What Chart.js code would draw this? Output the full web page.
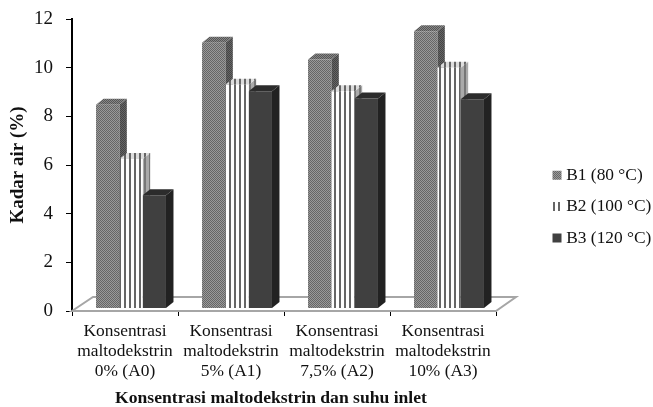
<!DOCTYPE html>
<html lang="id">
<head>
  <meta charset="UTF-8" />
  <title>Kadar air</title>
  <script src="https://cdn.jsdelivr.net/npm/chart.js"></script>
  <style>
    html, body { margin: 0; padding: 0; background: #fff; overflow: hidden; }
    #wrap { width: 653px; height: 407px; }
  </style>
</head>
<body>
  <div id="wrap"><canvas id="airChart" width="653" height="407"></canvas></div>

  <script>
    const categories = [
      ["Konsentrasi", "maltodekstrin", "0% (A0)"],
      ["Konsentrasi", "maltodekstrin", "5% (A1)"],
      ["Konsentrasi", "maltodekstrin", "7,5% (A2)"],
      ["Konsentrasi", "maltodekstrin", "10% (A3)"]
    ];
    const b1Values = [8.48, 11.02, 10.34, 11.5];
    const b2Values = [6.25, 9.3, 9.03, 10.0];
    const b3Values = [4.76, 9.03, 8.73, 8.7];
    const seriesNames = ["B1 (80 °C)", "B2 (100 °C)", "B3 (120 °C)"];
    const serif = "'Liberation Serif', serif";

    // little tiled fills for the old Excel style bars
    function tile(w, h, paint) {
      const c = document.createElement("canvas");
      c.width = w; c.height = h;
      paint(c.getContext("2d"));
      return c.getContext("2d").createPattern(c, "repeat");
    }
    function dither(dark, light) {
      return tile(2, 2, g => {
        g.fillStyle = light; g.fillRect(0, 0, 2, 2);
        g.fillStyle = dark; g.fillRect(0, 0, 1, 1); g.fillRect(1, 1, 1, 1);
      });
    }
    function stripes(bg, line) {
      return tile(5, 2, g => {
        g.fillStyle = bg; g.fillRect(0, 0, 5, 2);
        g.fillStyle = line; g.fillRect(3, 0, 2, 2);
      });
    }

    const fronts = [dither("#666", "#9a9a9a"), stripes("#fff", "#666"), "#404040"];
    const sides = [dither("#444", "#666"), stripes("#aaa", "#777"), "#222"];
    const tops = [dither("#555", "#888"), stripes("#ddd", "#666"), "#2c2c2c"];
    const DX = 7.5, DY = 6, SHIFT = 6;

    const bar3d = {
      id: "bar3d",
      beforeLayout(chart) {
        const lg = chart.legend;
        if (!lg._wrapped) {
          const fit = lg.fit;
          lg.fit = function () { fit.call(this); this.width = 100; };
          lg._wrapped = true;
        }
      },
      afterLayout(chart) {
        const lg = chart.legend;
        lg.left = 542.5; lg.right = 654;
        lg.top = 152.5; lg.bottom = 300;
        // x title sits left of the axis centre in the original
        const x = chart.scales.x;
        if (!x._moved) {
          const dt = x.drawTitle;
          x.drawTitle = function () {
            chart.ctx.save();
            chart.ctx.translate(-13, 2);
            dt.call(this);
            chart.ctx.restore();
          };
          x._moved = true;
        }
      },
      beforeDatasetsDraw(chart) {
        const { ctx, chartArea: a } = chart;
        ctx.save();
        // the floor, tied to the axis ends
        ctx.strokeStyle = "#a6a6a6";
        ctx.lineWidth = 2;
        ctx.beginPath();
        ctx.moveTo(a.left, a.bottom);
        ctx.lineTo(a.left + 21, a.bottom - 14);
        ctx.lineTo(a.right + 20, a.bottom - 14);
        ctx.lineTo(a.right, a.bottom);
        ctx.closePath();
        ctx.stroke();
        // side and top faces first, the library paints the fronts over them
        ctx.translate(SHIFT, 0);
        chart.getSortedVisibleDatasetMetas().forEach((meta, i) => {
          meta.data.forEach(el => {
            const p = el.getProps(["x", "y", "base", "width"], true);
            const l = p.x - p.width / 2, r = p.x + p.width / 2;
            ctx.fillStyle = sides[i];
            ctx.beginPath();
            ctx.moveTo(r, p.y); ctx.lineTo(r + DX, p.y - DY);
            ctx.lineTo(r + DX, p.base - DY); ctx.lineTo(r, p.base);
            ctx.closePath(); ctx.fill();
            ctx.fillStyle = tops[i];
            ctx.beginPath();
            ctx.moveTo(l, p.y); ctx.lineTo(l + DX, p.y - DY);
            ctx.lineTo(r + DX, p.y - DY); ctx.lineTo(r, p.y);
            ctx.closePath(); ctx.fill();
          });
        });
      },
      afterDatasetsDraw(chart) {
        chart.ctx.restore();
      }
    };

    new Chart(document.getElementById("airChart").getContext("2d"), {
      type: "bar",
      data: {
        labels: categories,
        datasets: [b1Values, b2Values, b3Values].map((vals, i) => ({
          label: seriesNames[i],
          data: vals,
          base: 0.12,
          backgroundColor: fronts[i],
          borderWidth: 0,
          clip: false,
          categoryPercentage: 0.66,
          barPercentage: 1
        }))
      },
      options: {
        responsive: false,
        animation: false,
        layout: { padding: { top: 19, right: 57, left: 0, bottom: 0 } },
        plugins: {
          tooltip: { enabled: false },
          legend: {
            position: "right",
            align: "start",
            labels: {
              usePointStyle: true, pointStyle: "rect",
              boxWidth: 1, boxHeight: 9, padding: 14,
              color: "#111",
              font: { family: serif, size: 17.4 }
            }
          }
        },
        scales: {
          x: {
            afterFit(s) { s.height = 96; },
            border: { color: "#a6a6a6", width: 2 },
            grid: { drawOnChartArea: false, tickLength: 5, color: "#000", offset: true },
            ticks: { color: "#111", font: { family: serif, size: 17.4, lineHeight: 1.15 }, padding: 5, maxRotation: 0, autoSkip: false },
            title: {
              display: true,
              text: "Konsentrasi maltodekstrin dan suhu inlet",
              color: "#111",
              font: { family: serif, size: 17.6, weight: "bold" },
              padding: { top: 0, bottom: 0 }
            }
          },
          y: {
            min: 0, max: 12,
            afterFit(s) { s.width = 72; },
            border: { color: "#000", width: 2 },
            grid: { drawOnChartArea: false, tickLength: 6, color: "#000" },
            // small lineHeight: the tick padding would otherwise push the plot top down
            ticks: { stepSize: 2, color: "#111", font: { family: serif, size: 19, lineHeight: 0.4 }, padding: 13 },
            title: {
              display: true,
              text: "Kadar air (%)",
              color: "#111",
              font: { family: serif, size: 19, weight: "bold" },
              padding: { top: 7, bottom: 0 }
            }
          }
        }
      },
      plugins: [bar3d]
    });
  </script>
</body>
</html>
